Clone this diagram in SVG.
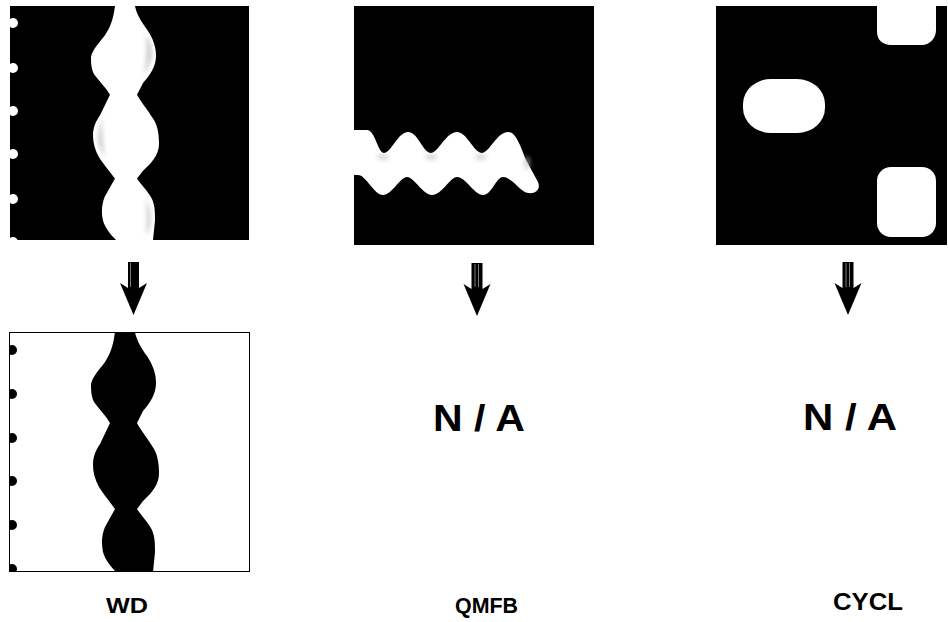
<svg xmlns="http://www.w3.org/2000/svg" xmlns:xlink="http://www.w3.org/1999/xlink" width="948" height="622" viewBox="0 0 948 622">
<style>
.lbl{font-family:"Liberation Sans",Arial,sans-serif;font-weight:bold;fill:#000;text-anchor:middle}
.na{font-size:37px}
.cap{font-size:22px}
.shaft-line{stroke:#cfcfcf;stroke-width:0.6}
</style>
<defs>
<path id="wave" d="M115,0 L135,0 C136,6 140,15 147,24 C153,33 156,42 156,51 C156,62 150,71 143,79 L137,91 C140,97 148,107 154,117 C158,124 159,133 159,141 C159,150 155,156 150,162 L143,169 L137,177 C140,182 148,190 152,198 C155,205 155,212 155,220 L153,240 L116,240 C112,236 105,228 103,220 C101,210 102,202 105,195 L115,177 C111,171 104,163 99,155 C95,148 93,140 93,133 C93,124 96,118 100,112 L110,91 C106,84 99,77 94,70 C91,64 91,57 91,52 C93,44 99,38 105,30 C110,22 113,15 115,0 Z"/>
<path id="arrow" d="M-5.5,0 H5.5 V26 L13.5,21 L0,53 L-13.5,21 L-5.5,26 Z"/>
<clipPath id="clipA"><rect x="10" y="6" width="239" height="234"/></clipPath>
<clipPath id="clipB"><rect x="9" y="332" width="241" height="240"/></clipPath>
<filter id="soft" x="-10%" y="-10%" width="120%" height="120%"><feGaussianBlur stdDeviation="0.6"/></filter>
<filter id="blur2" x="-50%" y="-50%" width="200%" height="200%"><feGaussianBlur stdDeviation="2"/></filter>
</defs>

<g id="wd-input">
<rect x="10" y="6" width="239" height="234" fill="#000"/>
<g clip-path="url(#clipA)" fill="#fff">
<use xlink:href="#wave" transform="translate(0,6) scale(1,0.975)" filter="url(#soft)"/>
<g fill="#aaa" opacity="0.55" filter="url(#blur2)">
<path d="M146,34 C151,42 153,50 152,58 C150,64 147,70 144,74 C146,62 147,50 146,34 Z"/>
<path d="M102,118 C99,126 97,134 98,142 C100,149 102,153 105,156 C103,146 102,132 102,118 Z"/>
<path d="M146,200 C150,206 151,214 151,222 C150,228 148,232 146,236 C147,224 147,212 146,200 Z"/>
</g>
<circle cx="13" cy="23" r="5"/>
<circle cx="13" cy="68" r="5"/>
<circle cx="13" cy="111" r="5"/>
<circle cx="13" cy="154" r="5"/>
<circle cx="13" cy="199" r="5"/>
<circle cx="13" cy="242" r="5"/>
</g>
</g>

<g id="wd-output">
<rect x="9.5" y="332.5" width="240" height="239" fill="#fff" stroke="#000" stroke-width="1"/>
<g clip-path="url(#clipB)" fill="#000">
<use xlink:href="#wave" transform="translate(0,332)"/>
<circle cx="12" cy="350" r="5"/>
<circle cx="12" cy="394" r="5"/>
<circle cx="12" cy="438" r="5"/>
<circle cx="12" cy="481" r="5"/>
<circle cx="12" cy="525" r="5"/>
<circle cx="12" cy="569" r="5"/>
</g>
</g>

<g id="qmfb-input">
<rect x="354" y="6" width="240" height="239" fill="#000"/>
<path d="M354,130 L367,130 C375,130 378,153 384,153 C391,153 398,132 408,132 C418,132 423,153 431,153 C438,153 446,132 457,132 C467,132 474,153 482,153 C489,153 497,132 508,132 C516,132 520,145 526,160 L538,182 C541,190 535,194 528,193 C520,192 512,177 503,177 C496,177 492,195 483,195 C474,195 466,177 457,177 C450,177 442,195 432,195 C423,195 414,177 407,177 C400,177 392,195 383,195 C374,195 366,175 358,175 L354,175 Z" fill="#fff" filter="url(#soft)"/>
<g fill="#bbb" opacity="0.6" filter="url(#blur2)">
<ellipse cx="383" cy="157" rx="6" ry="3"/>
<ellipse cx="431" cy="157" rx="6" ry="3"/>
<ellipse cx="481" cy="157" rx="6" ry="3"/>
<ellipse cx="527" cy="163" rx="3" ry="7"/>
</g>
</g>

<g id="cycl-input">
<rect x="716" y="6" width="231" height="239" fill="#000"/>
<g fill="#fff">
<path d="M877,6 H936 V30 C936,38 930,45 922,45 H891 C883,45 877,40 877,32 Z"/>
<rect x="743" y="79" width="82" height="54" rx="28" ry="25"/>
<rect x="877" y="167" width="59" height="70" rx="14" ry="14"/>
</g>
</g>

<g id="qmfb-output">
<text class="lbl na" x="479" y="431" textLength="92" lengthAdjust="spacingAndGlyphs">N / A</text>
</g>
<g id="cycl-output">
<text class="lbl na" x="850" y="430" textLength="94" lengthAdjust="spacingAndGlyphs">N / A</text>
</g>

<g id="labels">
<text class="lbl cap" x="127" y="613" textLength="42" lengthAdjust="spacingAndGlyphs">WD</text>
<text class="lbl cap" x="486.5" y="613" textLength="63" lengthAdjust="spacingAndGlyphs">QMFB</text>
<text class="lbl cap" x="868" y="610" textLength="70" lengthAdjust="spacingAndGlyphs" style="font-size:24px">CYCL</text>
</g>

<g id="connectors">
<g transform="translate(133.5,262)">
<use xlink:href="#arrow" fill="#000"/>
<line class="shaft-line" x1="-3" y1="1" x2="-3" y2="25"/>
</g>
<g transform="translate(477,263)">
<use xlink:href="#arrow" fill="#000"/>
<line class="shaft-line" x1="-2" y1="1" x2="-2" y2="24"/>
<line class="shaft-line" x1="1.5" y1="1" x2="1.5" y2="24"/>
</g>
<g transform="translate(848,262)">
<use xlink:href="#arrow" fill="#000"/>
<line class="shaft-line" x1="-2" y1="1" x2="-2" y2="25"/>
<line class="shaft-line" x1="1.5" y1="1" x2="1.5" y2="25"/>
</g>
</g>
</svg>
